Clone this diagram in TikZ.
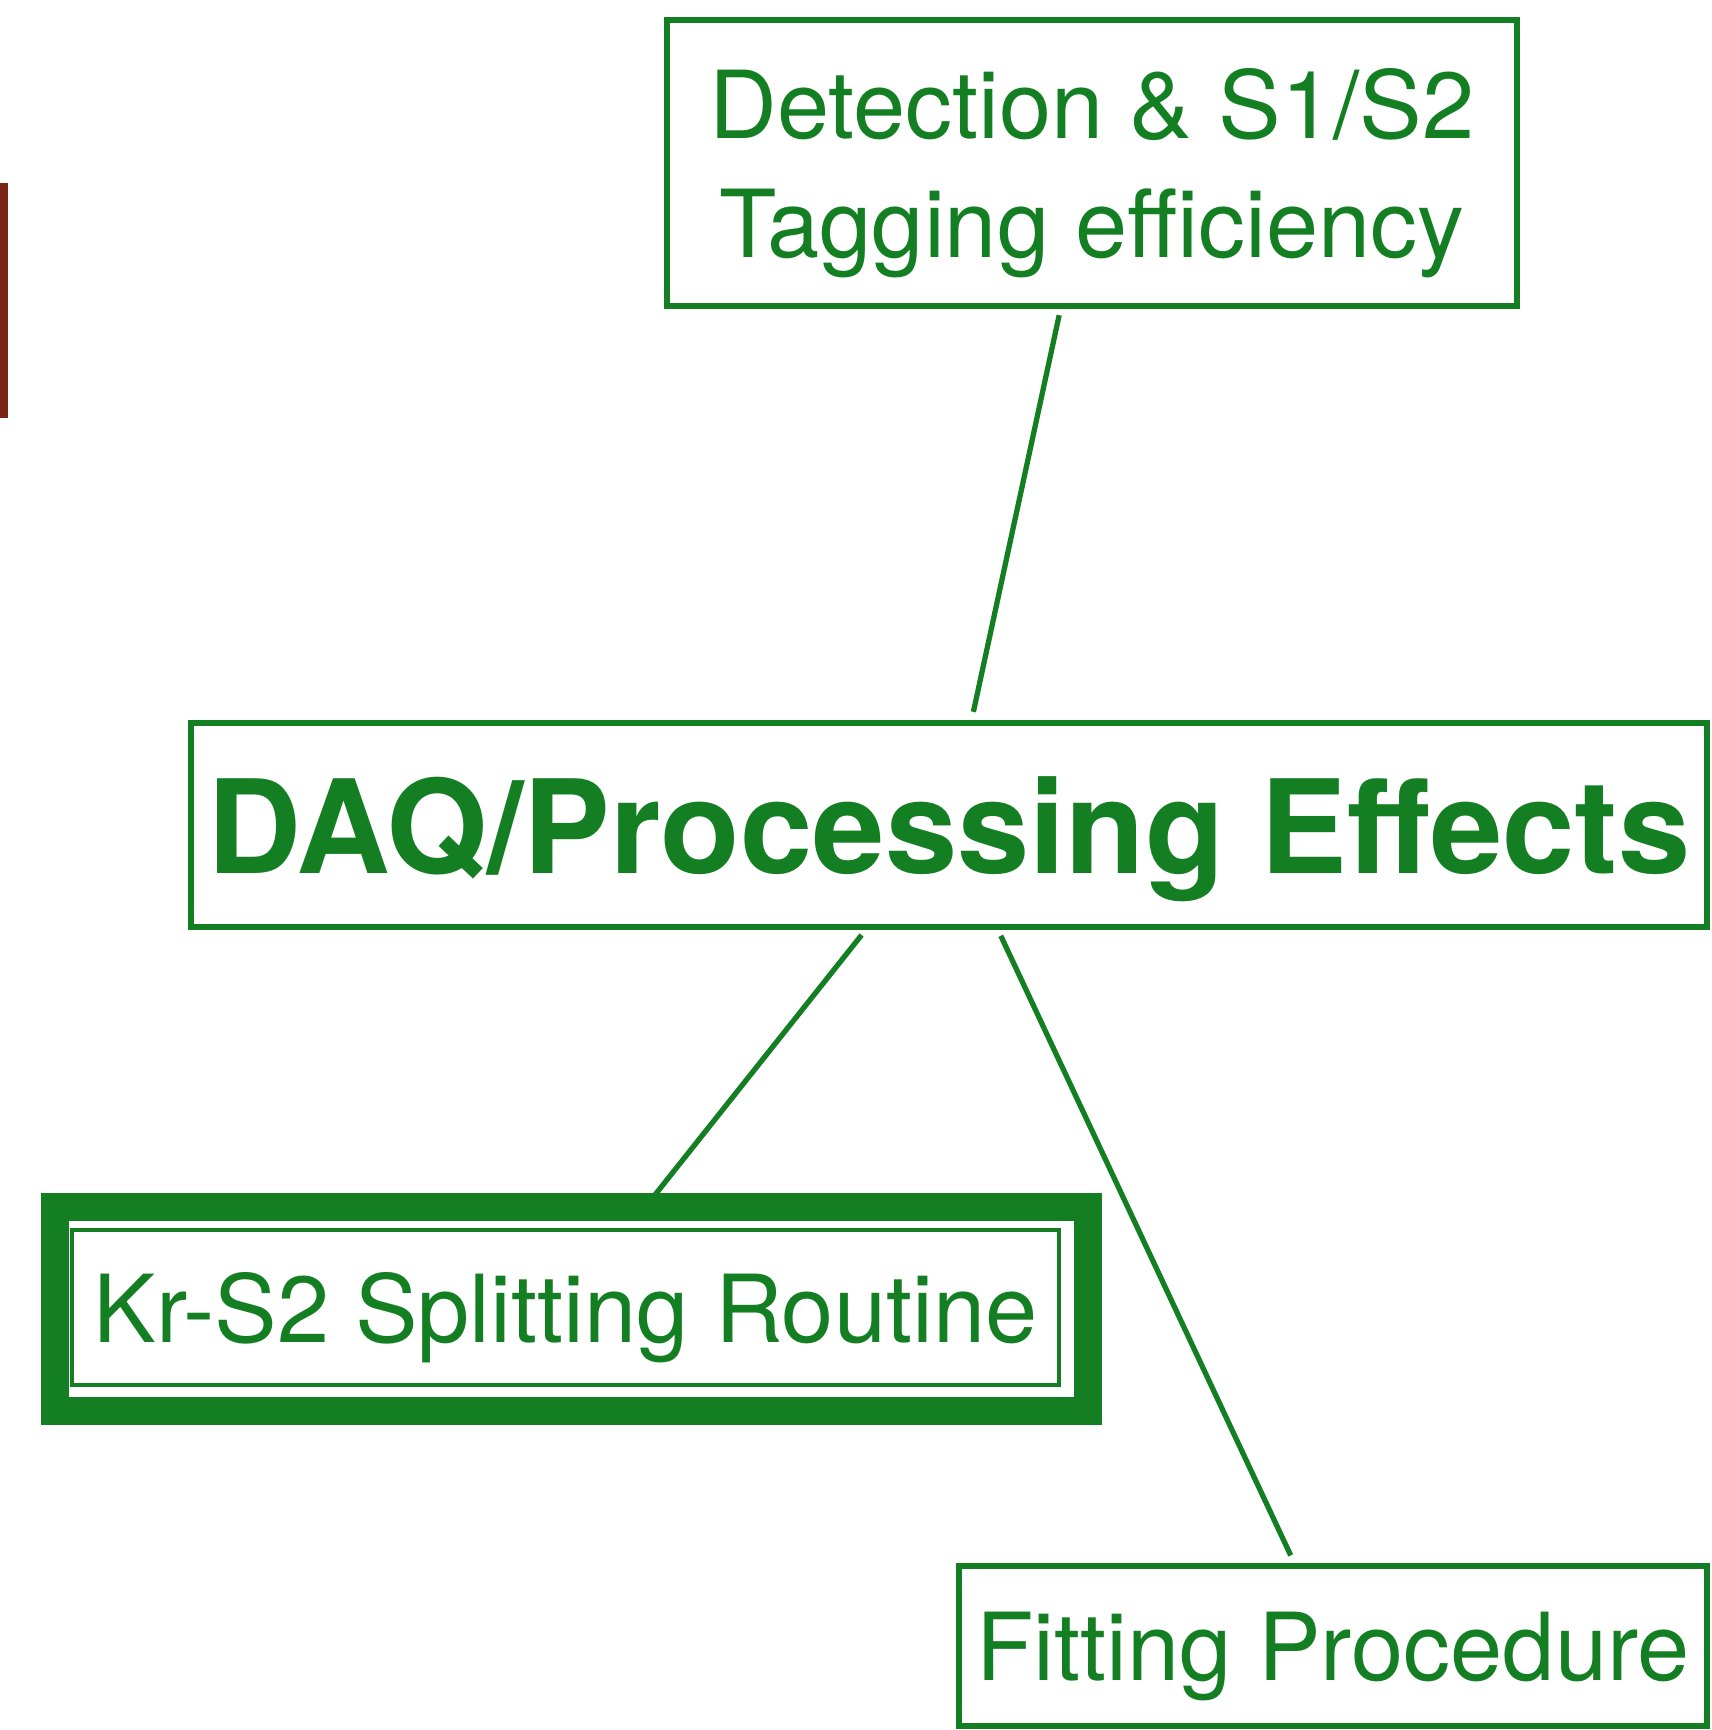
\documentclass[tikz,border=0pt]{standalone}
\usepackage{fontspec}
\setmainfont{TeX Gyre Heros}
\usepackage{tikz}
\definecolor{sketchgreen}{RGB}{19,127,34}
\definecolor{sketchred}{RGB}{122,36,22}

\begin{document}
\begin{tikzpicture}[box/.style={rectangle,draw=sketchgreen,line width=1.9pt,text=sketchgreen,inner sep=0pt,font=\fontsize{26.7}{33.8}\selectfont},
  link/.style={draw=sketchgreen,line width=1.5pt,shorten <=0.06cm,shorten >=0.08cm}]
\useasboundingbox (0,0) rectangle (17.11,-17.30);
\fill [sketchred] (0,-1.83) rectangle (0.08,-4.18);
\node [box,minimum width=8.5cm,minimum height=2.86cm,align=center] (det) at (10.92,-1.63) {Detection \& S1/S2\\\raisebox{0pt}[\height][0pt]{Tagging efficiency}};
\node [box,minimum width=15.16cm,minimum height=2.04cm,text depth=0pt,font=\fontsize{37}{43}\selectfont\bfseries] (daq) at (9.49,-8.25) {DAQ/Processing Effects};
\node [box,line width=1.4pt,minimum width=9.87cm,minimum height=1.55cm,text depth=0pt] (kr) at (5.655,-13.075) {Kr-S2 Splitting Routine};
\draw [sketchgreen,line width=0.28cm] ([shift={(-0.15,0.21)}]kr.north west) rectangle ([shift={(0.27,-0.24)}]kr.south east);
\node [box,minimum width=7.48cm,minimum height=1.6cm,text depth=0pt] (fit) at (13.33,-16.46) {Fitting Procedure};
\draw [link] (det) -- (daq);
\draw [link,shorten >=0.3cm] (daq) -- (kr);
\draw [link] (daq) -- (fit);
\end{tikzpicture}
\end{document}
